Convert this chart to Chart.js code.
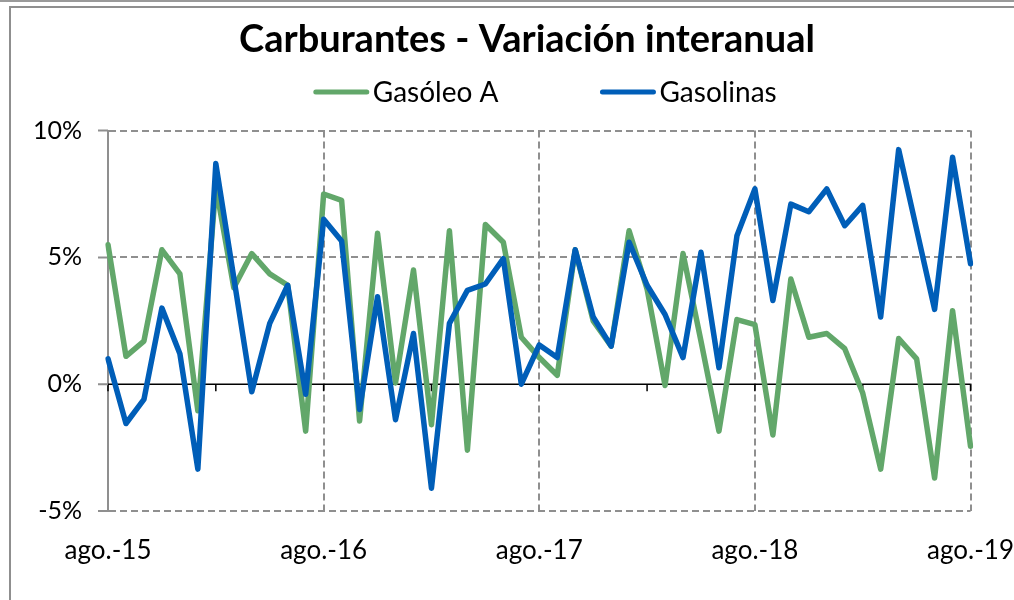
<!DOCTYPE html>
<html>
<head>
<meta charset="utf-8">
<title>Carburantes - Variación interanual</title>
<script src="https://cdn.jsdelivr.net/npm/chart.js@4.4.1/dist/chart.umd.min.js"></script>
<style>
  html, body { margin: 0; padding: 0; background: #fff; overflow: hidden; width: 1014px; height: 600px; }
  .topline { position: absolute; left: 0; top: 0; width: 1014px; height: 2px; background: #9a9a9a; }
  .frame { position: absolute; left: 9px; top: 6px; width: 1100px; height: 700px; border-left: 2px solid #8f8f8f; border-top: 2px solid #8f8f8f; }
  #chart { position: absolute; left: 0; top: 0; }
</style>
</head>
<body>
<div class="topline"></div>
<div class="frame"></div>
<canvas id="chart" width="1038" height="600"></canvas>
<script>
  // months ago.-15 .. ago.-19
  const categories = [
    'ago.-15', 'sep.-15', 'oct.-15', 'nov.-15', 'dic.-15',
    'ene.-16', 'feb.-16', 'mar.-16', 'abr.-16', 'may.-16', 'jun.-16', 'jul.-16', 'ago.-16', 'sep.-16', 'oct.-16', 'nov.-16', 'dic.-16',
    'ene.-17', 'feb.-17', 'mar.-17', 'abr.-17', 'may.-17', 'jun.-17', 'jul.-17', 'ago.-17', 'sep.-17', 'oct.-17', 'nov.-17', 'dic.-17',
    'ene.-18', 'feb.-18', 'mar.-18', 'abr.-18', 'may.-18', 'jun.-18', 'jul.-18', 'ago.-18', 'sep.-18', 'oct.-18', 'nov.-18', 'dic.-18',
    'ene.-19', 'feb.-19', 'mar.-19', 'abr.-19', 'may.-19', 'jun.-19', 'jul.-19', 'ago.-19'
  ];

  // % interannual change
  const gasoleoA = [
    5.5, 1.1, 1.7, 5.3, 4.35, -1.05, 7.8, 3.8, 5.15, 4.35, 3.9, -1.85,
    7.5, 7.25, -1.45, 5.95, 0.05, 4.5, -1.6, 6.05, -2.6, 6.3, 5.6, 1.85,
    1.05, 0.35, 5.3, 2.5, 1.5, 6.05, 3.75, -0.05, 5.15, 1.7, -1.85, 2.55,
    2.35, -2.0, 4.15, 1.85, 2.0, 1.4, -0.35, -3.35, 1.8, 1.0, -3.7, 2.9,
    -2.45
  ];
  const gasolinas = [
    1.0, -1.55, -0.6, 3.0, 1.2, -3.35, 8.7, 4.2, -0.3, 2.4, 3.9, -0.4,
    6.5, 5.65, -1.0, 3.45, -1.4, 2.0, -4.1, 2.4, 3.7, 3.95, 4.95, 0.0,
    1.55, 1.05, 5.3, 2.65, 1.5, 5.6, 3.9, 2.75, 1.05, 5.2, 0.65, 5.85,
    7.7, 3.3, 7.1, 6.8, 7.7, 6.25, 7.05, 2.65, 9.25, 6.1, 2.95, 8.95,
    4.75
  ];

  const yTicks = [-5, 0, 5, 10];

  const GREEN = '#62a76a';
  const BLUE = '#005eb8';
  const GRID = '#8f8f8f';
  const FONT = 'Lato, "Open Sans", sans-serif';

  // zero line, small ticks every 6 months on it, and ticks on the y axis
  const axisExtras = {
    id: 'axisExtras',
    beforeDatasetsDraw(chart) {
      const { ctx, chartArea, scales: { x, y } } = chart;
      const y0 = y.getPixelForValue(0);
      ctx.save();
      ctx.strokeStyle = '#000';
      ctx.lineWidth = 1.5;
      ctx.beginPath();
      ctx.moveTo(chartArea.left, y0);
      ctx.lineTo(chartArea.right, y0);
      for (let i = 0; i < categories.length; i += 6) {
        const px = x.getPixelForValue(i);
        ctx.moveTo(px, y0);
        ctx.lineTo(px, y0 + 7);
      }
      ctx.stroke();
      ctx.strokeStyle = GRID;
      ctx.lineWidth = 2;
      ctx.beginPath();
      yTicks.forEach(v => {
        const py = y.getPixelForValue(v);
        ctx.moveTo(chartArea.left - 10, py);
        ctx.lineTo(chartArea.left, py);
      });
      ctx.stroke();
      ctx.restore();
    }
  };

  // excel-like legend: thick line sample + text, wide gap between items
  const lineLegend = {
    id: 'lineLegend',
    afterDraw(chart) {
      const { ctx, chartArea } = chart;
      const sample = 55, textGap = 4, itemGap = 102, yPos = 92;
      ctx.save();
      ctx.font = '28px ' + FONT;
      ctx.textBaseline = 'middle';
      const items = chart.data.datasets.map(ds => ({
        label: ds.label, color: ds.borderColor, w: sample + textGap + ctx.measureText(ds.label).width
      }));
      const total = items.reduce((s, it) => s + it.w, 0) + itemGap * (items.length - 1);
      let xPos = (chartArea.left + chartArea.right) / 2 + 6 - total / 2;
      items.forEach(it => {
        ctx.strokeStyle = it.color;
        ctx.lineWidth = 5;
        ctx.lineCap = 'round';
        ctx.beginPath();
        ctx.moveTo(xPos + 2, yPos);
        ctx.lineTo(xPos + sample - 2, yPos);
        ctx.stroke();
        ctx.fillStyle = '#000';
        ctx.fillText(it.label, xPos + sample + textGap, yPos + 1);
        xPos += it.w + itemGap;
      });
      ctx.restore();
    }
  };

  const chart = new Chart(document.getElementById('chart'), {
    type: 'line',
    data: {
      labels: categories,
      datasets: [
        { label: 'Gasóleo A', data: gasoleoA, borderColor: GREEN, backgroundColor: GREEN, order: 2 },
        { label: 'Gasolinas', data: gasolinas, borderColor: BLUE, backgroundColor: BLUE, order: 1 }
      ]
    },
    options: {
      responsive: false,
      animation: false,
      layout: { padding: { left: 31, right: 15, top: 0, bottom: 0 } },
      elements: {
        line: { borderWidth: 5.5, tension: 0, borderJoinStyle: 'round', borderCapStyle: 'round' },
        point: { radius: 0, hoverRadius: 0 }
      },
      plugins: {
        legend: { display: false },
        tooltip: { enabled: false },
        title: {
          display: true,
          text: 'Carburantes - Variación interanual',
          color: '#000',
          font: { family: FONT, size: 38, weight: 'bold', lineHeight: 1.2 },
          padding: { top: 17, bottom: 68 }
        }
      },
      scales: {
        x: {
          offset: false,
          afterFit: s => { s.height = 89; },
          grid: {
            drawTicks: false,
            lineWidth: 2,
            color: c => (c.index % 12 === 0 && c.index > 0) ? GRID : 'rgba(0,0,0,0)'
          },
          border: { display: false, dash: [7, 4] },
          ticks: {
            autoSkip: false,
            maxRotation: 0,
            padding: 24,
            color: '#000',
            font: { family: FONT, size: 26 },
            callback: (v, i) => i % 12 === 0 ? categories[i] : ''
          }
        },
        y: {
          min: -5,
          max: 10,
          afterFit: s => { s.width = 77; },
          afterBuildTicks: s => { s.ticks = yTicks.map(v => ({ value: v })); },
          grid: {
            drawTicks: false,
            lineWidth: 2,
            color: c => c.tick && c.tick.value === 0 ? 'rgba(0,0,0,0)' : GRID
          },
          border: { display: true, color: GRID, width: 2, dash: [7, 4] },
          ticks: {
            padding: 26,
            color: '#000',
            font: { family: FONT, size: 25 },
            callback: v => v + '%'
          }
        },
        // empty right axis, only keeps the title centred like the original chart object
        yRight: {
          position: 'right',
          min: -5,
          max: 10,
          afterFit: s => { s.width = 45; },
          grid: { display: false },
          border: { display: false },
          ticks: { display: false }
        }
      }
    },
    plugins: [axisExtras, lineLegend]
  });
</script>
</body>
</html>
